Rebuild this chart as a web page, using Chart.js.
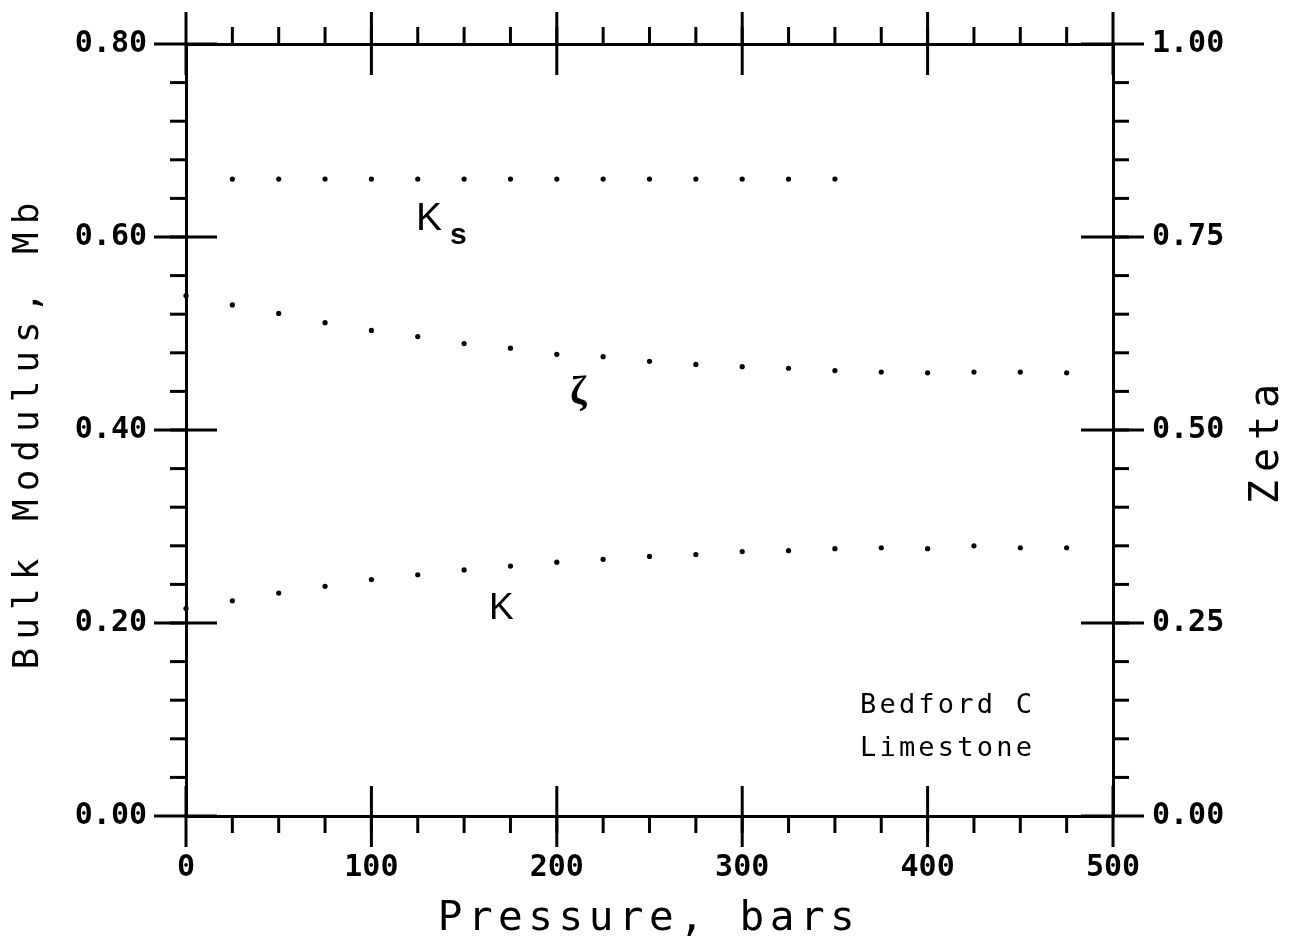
<!DOCTYPE html>
<html>
<head>
    <title>Bedford C Limestone - Bulk Modulus and Zeta</title>
    <script src="https://cdn.jsdelivr.net/npm/chart.js"></script>
    <style>
        body {
            margin: 0;
            background-color: #ffffff;
        }
    </style>
</head>
<body>
    <canvas id="modulusChart" width="1294" height="944"></canvas>

    <script>
        // pressures (bars) at which K and zeta were sampled
        var pressure = [0, 25, 50, 75, 100, 125, 150, 175, 200, 225, 250, 275, 300, 325, 350, 375, 400, 425, 450, 475];
        // K (Mb), left axis
        var kValues = [0.215, 0.223, 0.231, 0.238, 0.245, 0.250, 0.255, 0.259, 0.263, 0.266, 0.269, 0.271, 0.274, 0.275, 0.277, 0.278, 0.277, 0.280, 0.278, 0.278];
        // zeta, right axis
        var zetaValues = [0.674, 0.662, 0.651, 0.639, 0.629, 0.621, 0.612, 0.606, 0.598, 0.595, 0.589, 0.585, 0.582, 0.580, 0.577, 0.575, 0.574, 0.575, 0.575, 0.574];
        // Ks (Mb), left axis
        var ksPressure = [25, 50, 75, 100, 125, 150, 175, 200, 225, 250, 275, 300, 325, 350];
        var ksValues = [0.66, 0.66, 0.66, 0.66, 0.66, 0.66, 0.66, 0.66, 0.66, 0.66, 0.66, 0.66, 0.66, 0.66];

        // labelled ticks
        var xMajor = [0, 100, 200, 300, 400, 500];
        var leftMajor = [0, 0.2, 0.4, 0.6, 0.8];
        var rightMajor = [0, 0.25, 0.5, 0.75, 1.0];

        var tickFont = { family: 'DejaVu Sans Mono', size: 30, weight: 'bold' };

        function toPoints(xs, ys) {
            return xs.map(function (x, i) { return { x: x, y: ys[i] }; });
        }

        function setTicks(list) {
            return function (scale) {
                scale.ticks = list.map(function (v) { return { value: v }; });
            };
        }

        // fixed frame: keep label overhang from pushing the plot area around
        function fixSize(w, h) {
            return function (s) {
                if (w !== null) s.width = w;
                if (h !== null) s.height = h;
                s.paddingTop = 0;
                s.paddingBottom = 0;
                s.paddingLeft = 0;
                s.paddingRight = 0;
            };
        }

        // crossing major ticks and short outward minor ticks, like the plotter frame
        var frameTicks = {
            id: 'frameTicks',
            afterDraw: function (chart) {
                var ctx = chart.ctx;
                var a = chart.chartArea;
                var x = chart.scales.x, y = chart.scales.y, y2 = chart.scales.y2;
                ctx.save();
                ctx.strokeStyle = '#000';
                ctx.lineWidth = 3;
                function seg(x1, y1, x2, y2b) {
                    ctx.beginPath();
                    ctx.moveTo(x1, y1);
                    ctx.lineTo(x2, y2b);
                    ctx.stroke();
                }
                var v, p;
                for (v = 25; v < 500; v += 25) {
                    p = x.getPixelForValue(v);
                    seg(p, a.bottom, p, a.bottom + 17);
                    seg(p, a.top, p, a.top - 17);
                }
                xMajor.forEach(function (m) {
                    p = x.getPixelForValue(m);
                    seg(p, a.bottom - 30, p, a.bottom + 31);
                    seg(p, a.top - 32, p, a.top + 31);
                });
                for (v = 0.04; v < 0.8; v += 0.04) {
                    p = y.getPixelForValue(v);
                    seg(a.left - 16, p, a.left, p);
                }
                leftMajor.forEach(function (m) {
                    p = y.getPixelForValue(m);
                    seg(a.left - 32, p, a.left + 31, p);
                });
                for (v = 0.05; v < 1; v += 0.05) {
                    p = y2.getPixelForValue(v);
                    seg(a.right, p, a.right + 16, p);
                }
                rightMajor.forEach(function (m) {
                    p = y2.getPixelForValue(m);
                    seg(a.right - 32, p, a.right + 31, p);
                });
                ctx.restore();
            }
        };

        function putText(ctx, str, x, y, font, spacing, align, angle) {
            ctx.save();
            ctx.translate(x, y);
            if (angle) ctx.rotate(angle);
            ctx.font = font;
            ctx.letterSpacing = (spacing || 0) + 'px';
            ctx.textAlign = align || 'left';
            ctx.textBaseline = 'alphabetic';
            ctx.fillStyle = '#000';
            ctx.fillText(str, 0, 0);
            ctx.restore();
        }

        var labels = {
            id: 'labels',
            afterDraw: function (chart) {
                var ctx = chart.ctx;
                // axis titles
                putText(ctx, 'Pressure, bars', 649, 930, '41px "DejaVu Sans Mono"', 5.5, 'center');
                putText(ctx, 'Bulk Modulus, Mb', 38, 432, '36px "DejaVu Sans Mono"', 8, 'center', -Math.PI / 2);
                putText(ctx, 'Zeta', 1278, 440, '40px "DejaVu Sans Mono"', 8, 'center', -Math.PI / 2);
                // curve labels
                putText(ctx, 'K', 416, 230, '39px "Liberation Sans"');
                putText(ctx, 's', 450, 244, 'bold 30px "Liberation Sans"');
                putText(ctx, '\u03B6', 570, 404, 'bold 40px "Liberation Serif"');
                putText(ctx, 'K', 489, 619, '37px "Liberation Sans"');
                // sample name
                putText(ctx, 'Bedford C', 860, 713, '500 27px "DejaVu Sans Mono"', 3.2);
                putText(ctx, 'Limestone', 860, 756, '500 27px "DejaVu Sans Mono"', 3.2);
            }
        };

        function dotSet(label, data, axis) {
            return {
                label: label,
                data: data,
                yAxisID: axis,
                showLine: false,
                pointRadius: 2.6,
                pointBorderWidth: 0,
                pointBackgroundColor: '#000',
                clip: false
            };
        }

        var chart = new Chart(document.getElementById('modulusChart').getContext('2d'), {
            type: 'scatter',
            data: {
                datasets: [
                    dotSet('Ks', toPoints(ksPressure, ksValues), 'y'),
                    dotSet('Zeta', toPoints(pressure, zetaValues), 'y2'),
                    dotSet('K', toPoints(pressure, kValues), 'y')
                ]
            },
            options: {
                responsive: false,
                animation: false,
                layout: { padding: 0 },
                plugins: {
                    legend: { display: false },
                    tooltip: { enabled: false }
                },
                scales: {
                    x: {
                        type: 'linear',
                        position: 'bottom',
                        min: 0,
                        max: 500,
                        afterBuildTicks: setTicks(xMajor),
                        afterFit: fixSize(null, 128),
                        grid: { display: false, drawTicks: false },
                        border: { display: true, color: '#000', width: 3 },
                        ticks: {
                            color: '#000',
                            font: tickFont,
                            padding: 34,
                            maxRotation: 0,
                            callback: function (v) { return String(v); }
                        }
                    },
                    xTop: {
                        type: 'linear',
                        position: 'top',
                        min: 0,
                        max: 500,
                        afterFit: fixSize(null, 44),
                        grid: { display: false, drawTicks: false },
                        border: { display: true, color: '#000', width: 3 },
                        ticks: { display: false }
                    },
                    y: {
                        type: 'linear',
                        position: 'left',
                        min: 0,
                        max: 0.8,
                        afterBuildTicks: setTicks(leftMajor),
                        afterFit: fixSize(186, null),
                        grid: { display: false, drawTicks: false },
                        border: { display: true, color: '#000', width: 3 },
                        ticks: {
                            color: '#000',
                            font: tickFont,
                            padding: 39,
                            callback: function (v) { return v.toFixed(2); }
                        }
                    },
                    y2: {
                        type: 'linear',
                        position: 'right',
                        min: 0,
                        max: 1,
                        afterBuildTicks: setTicks(rightMajor),
                        afterFit: fixSize(181, null),
                        grid: { display: false, drawTicks: false },
                        border: { display: true, color: '#000', width: 3 },
                        ticks: {
                            color: '#000',
                            font: tickFont,
                            padding: 39,
                            callback: function (v) { return v.toFixed(2); }
                        }
                    }
                }
            },
            plugins: [frameTicks, labels]
        });
    </script>
</body>
</html>
